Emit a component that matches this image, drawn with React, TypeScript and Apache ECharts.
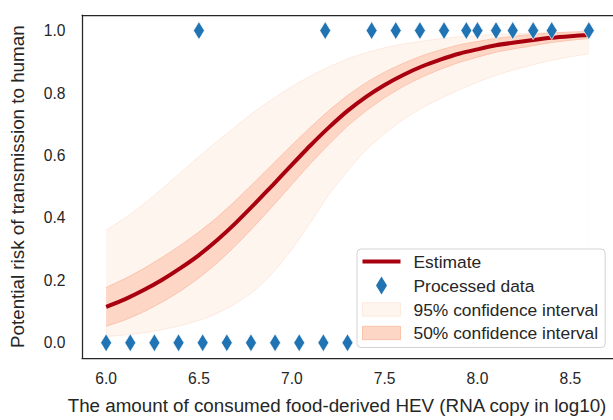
import React, { useEffect, useRef } from "react";
import * as echarts from "echarts";

// Dose levels (log10 RNA copies) at which the fitted curve and bands are sampled
const doseGrid = [
  6.0, 6.1, 6.2, 6.3, 6.4, 6.5, 6.6, 6.7, 6.8, 6.9, 7.0, 7.1, 7.2, 7.3,
  7.4, 7.5, 7.6, 7.7, 7.8, 7.9, 8.0, 8.1, 8.2, 8.3, 8.4, 8.5, 8.6,
];

// Estimated risk of transmission
const estimate = [
  0.115, 0.139, 0.168, 0.201, 0.239, 0.281, 0.33, 0.385, 0.445, 0.507, 0.57,
  0.632, 0.69, 0.743, 0.788, 0.826, 0.858, 0.885, 0.907, 0.926, 0.94, 0.953,
  0.962, 0.97, 0.977, 0.982, 0.986,
];

// 50% confidence interval
const ci50Upper = [
  0.177, 0.205, 0.237, 0.273, 0.312, 0.355, 0.403, 0.457, 0.515, 0.574, 0.633,
  0.69, 0.744, 0.792, 0.833, 0.867, 0.895, 0.919, 0.938, 0.954, 0.965, 0.975,
  0.982, 0.988, 0.992, 0.995, 0.997,
];
const ci50Lower = [
  0.053, 0.073, 0.099, 0.13, 0.166, 0.208, 0.257, 0.313, 0.375, 0.44, 0.507,
  0.574, 0.636, 0.694, 0.743, 0.785, 0.821, 0.851, 0.876, 0.898, 0.915, 0.931,
  0.942, 0.952, 0.962, 0.969, 0.975,
];

// 95% confidence interval
const ci95Upper = [
  0.361, 0.399, 0.443, 0.493, 0.545, 0.596, 0.646, 0.694, 0.741, 0.782, 0.821,
  0.854, 0.884, 0.909, 0.929, 0.945, 0.957, 0.966, 0.974, 0.98, 0.984, 0.988,
  0.99, 0.992, 0.994, 0.995, 0.996,
];
const ci95Lower = [
  0.02, 0.025, 0.032, 0.042, 0.055, 0.072, 0.095, 0.127, 0.168, 0.226, 0.299,
  0.385, 0.475, 0.55, 0.618, 0.67, 0.715, 0.752, 0.782, 0.81, 0.835, 0.857,
  0.875, 0.891, 0.905, 0.916, 0.926,
];

// Observed outcomes: transmission (1) and no transmission (0)
const transmittedDose = [
  6.5, 7.18, 7.43, 7.56, 7.69, 7.82, 7.94, 8.0, 8.1, 8.19, 8.3, 8.4, 8.6,
];
const notTransmittedDose = [
  6.0, 6.13, 6.26, 6.39, 6.52, 6.65, 6.78, 6.91, 7.04, 7.17, 7.3,
];

const xTicks = [6.0, 6.5, 7.0, 7.5, 8.0, 8.5];
const yTicks = [0.0, 0.2, 0.4, 0.6, 0.8, 1.0];

const FONT = "'Liberation Sans', Arial, sans-serif";
const INK = "#262626";
const RED = "#a8000f";
const BLUE = "#2174b3";
const FILL95 = "#fef5ef";
const EDGE95 = "#fde9df";
const FILL50 = "#fdd6c6";
const EDGE50 = "#fbc2ab";

const pairs = (ys: number[]) => doseGrid.map((x, i) => [x, ys[i]]);

export default function App() {
  const ref = useRef<HTMLDivElement>(null);

  useEffect(() => {
    document.body.style.margin = "0";
    if (!ref.current) return;
    const chart = echarts.init(ref.current, undefined, { renderer: "svg" });

    const band = (name: string, ys: number[], fill: string, edge: string) => ({
      name,
      type: "line",
      data: pairs(ys),
      symbol: "none",
      smooth: 0.2,
      z: 2,
      lineStyle: { color: edge, width: 1 },
      areaStyle: { color: fill, opacity: 1, origin: "start" },
      silent: true,
    });

    const axisLine = { show: true, onZero: false, lineStyle: { color: INK, width: 1.25 } };

    chart.setOption({
      animation: false,
      grid: { left: 82, top: 15, width: 532.5, height: 346, show: false },
      legend: {
        orient: "vertical",
        left: 357,
        top: 249,
        z: 10,
        selectedMode: false,
        itemWidth: 38,
        itemHeight: 18,
        itemGap: 6.5,
        padding: [4, 7, 6, 5],
        backgroundColor: "rgba(255,255,255,0.8)",
        borderColor: "#d3d3d3",
        borderWidth: 1,
        borderRadius: 4,
        textStyle: { fontSize: 17.4, color: INK, fontFamily: FONT, padding: [0, 0, 0, 8] },
        data: [
          { name: "Estimate", icon: "path://M0,0H38V4H0Z", itemStyle: { color: RED, borderWidth: 0 } },
          { name: "Processed data", icon: "path://M5.5,0L11,9L5.5,18L0,9Z", itemStyle: { color: BLUE, borderWidth: 0 } },
          { name: "95% confidence interval", icon: "path://M0,0H37V13H0Z", itemStyle: { color: FILL95, borderColor: EDGE95, borderWidth: 1 } },
          { name: "50% confidence interval", icon: "path://M0,0H37V13H0Z", itemStyle: { color: FILL50, borderColor: EDGE50, borderWidth: 1 } },
        ],
      },
      xAxis: [
        {
          type: "value",
          min: 5.87,
          max: 8.73,
          position: "bottom",
          z: 5,
          axisLine,
          axisTick: { show: false },
          splitLine: { show: false },
          axisLabel: {
            customValues: xTicks,
            formatter: (v: number) => v.toFixed(1),
            fontSize: 15.6,
            color: INK,
            fontFamily: FONT,
            margin: 12,
          },
          name: "The amount of consumed food-derived HEV (RNA copy in log10)",
          nameLocation: "middle",
          nameGap: 37.6,
          nameTextStyle: { fontSize: 18.8, color: INK, fontFamily: FONT, padding: [0, 21, 0, 0] },
        },
        {
          type: "value",
          min: 5.87,
          max: 8.73,
          position: "top",
          z: 5,
          axisLine,
          axisTick: { show: false },
          splitLine: { show: false },
          axisLabel: { show: false },
        },
      ],
      yAxis: {
        type: "value",
        min: -0.05,
        max: 1.05,
        z: 5,
        axisLine,
        axisTick: { show: false },
        splitLine: { show: false },
        axisLabel: {
          customValues: yTicks,
          formatter: (v: number) => v.toFixed(1),
          fontSize: 15.6,
          color: INK,
          fontFamily: FONT,
          margin: 16.5,
        },
        name: "Potential risk of transmission to human",
        nameLocation: "middle",
        nameGap: 54.6,
        nameTextStyle: { fontSize: 18.8, color: INK, fontFamily: FONT },
      },
      series: [
        // Bands are layered from the outermost edge inwards so each fill covers the one below it
        band("95% confidence interval", ci95Upper, FILL95, EDGE95),
        band("50% confidence interval", ci50Upper, FILL50, EDGE50),
        band("ci50-lower", ci50Lower, FILL95, EDGE50),
        band("ci95-lower", ci95Lower, "#ffffff", EDGE95),
        {
          name: "Estimate",
          type: "line",
          data: pairs(estimate),
          symbol: "none",
          smooth: 0.2,
          z: 3,
          lineStyle: { color: RED, width: 4 },
          silent: true,
        },
        {
          name: "Processed data",
          type: "scatter",
          data: [
            ...notTransmittedDose.map((x) => [x, 0]),
            ...transmittedDose.map((x) => [x, 1]),
          ],
          symbol: "diamond",
          symbolSize: [11, 18],
          z: 4,
          itemStyle: { color: BLUE, borderColor: "#ffffff", borderWidth: 0.7, opacity: 1 },
          silent: true,
        },
      ],
    });

    return () => chart.dispose();
  }, []);

  return (
    <div
      ref={ref}
      style={{ position: "absolute", left: 0, top: 0, width: 613, height: 420 }}
    />
  );
}
